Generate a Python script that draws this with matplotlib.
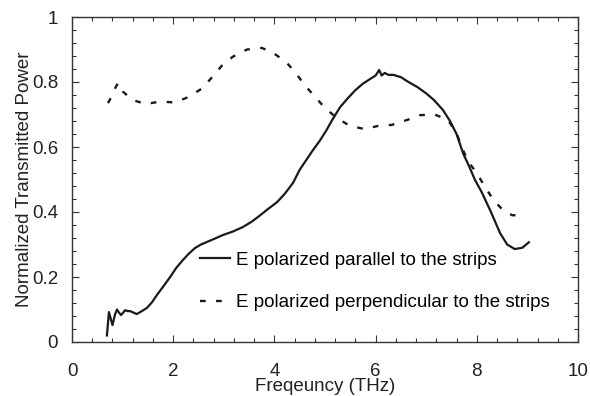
import numpy as np
from matplotlib import pyplot as plt
from matplotlib.ticker import MultipleLocator

plt.rcParams['font.family'] = ['Liberation Sans', 'DejaVu Sans']

# solid curve: E parallel to the strips
f_par = [0.69, 0.73, 0.80, 0.85, 0.89, 0.93, 0.97, 1.01, 1.05, 1.10, 1.15, 1.22, 1.28,
         1.38, 1.48, 1.58, 1.68, 1.80, 1.94, 2.06, 2.19, 2.31, 2.43, 2.55, 2.67, 2.82,
         2.98, 3.18, 3.38, 3.55, 3.72, 3.88, 4.05, 4.20, 4.37, 4.50, 4.63, 4.76, 4.90,
         5.03, 5.13, 5.30, 5.45, 5.60, 5.75, 5.90, 6.00, 6.07, 6.12, 6.18, 6.25, 6.35,
         6.50, 6.65, 6.82, 7.00, 7.15, 7.33, 7.47, 7.60, 7.73, 7.85, 7.96, 8.10, 8.28,
         8.46, 8.60, 8.75, 8.90, 9.03]
p_par = [0.02, 0.092, 0.052, 0.085, 0.10, 0.09, 0.083, 0.09, 0.098, 0.095, 0.095, 0.09,
         0.086, 0.095, 0.105, 0.122, 0.145, 0.17, 0.20, 0.228, 0.252, 0.272, 0.289,
         0.30, 0.308, 0.318, 0.329, 0.34, 0.354, 0.37, 0.39, 0.41, 0.43, 0.455, 0.49,
         0.53, 0.56, 0.59, 0.62, 0.652, 0.68, 0.723, 0.75, 0.775, 0.795, 0.81, 0.82,
         0.837, 0.82, 0.828, 0.822, 0.822, 0.815, 0.80, 0.785, 0.765, 0.745, 0.714,
         0.68, 0.64, 0.58, 0.54, 0.50, 0.46, 0.40, 0.335, 0.30, 0.286, 0.29, 0.307]

# dashed curve: E perpendicular to the strips
f_perp = [0.71, 0.79, 0.85, 0.91, 1.01, 1.19, 1.46, 1.74, 2.03, 2.29, 2.57, 2.77, 2.96,
          3.18, 3.46, 3.75, 3.97, 4.23, 4.43, 4.60, 4.80, 5.00, 5.23, 5.49, 5.79, 6.05,
          6.32, 6.62, 6.88, 7.17, 7.43, 7.60, 7.70, 7.83, 8.00, 8.17, 8.33, 8.52, 8.70,
          8.85]
p_perp = [0.735, 0.757, 0.78, 0.797, 0.77, 0.745, 0.732, 0.74, 0.737, 0.753, 0.78,
          0.815, 0.85, 0.878, 0.90, 0.905, 0.89, 0.862, 0.826, 0.79, 0.755, 0.72, 0.69,
          0.665, 0.655, 0.665, 0.668, 0.683, 0.698, 0.70, 0.683, 0.643, 0.60, 0.555,
          0.52, 0.475, 0.437, 0.405, 0.39, 0.39]

xticks = [0, 2, 4, 6, 8, 10]
yticks = [0, 0.2, 0.4, 0.6, 0.8, 1]
fs = 13.5

fig = plt.figure(figsize=(5.9, 3.96), dpi=100)
ax = fig.add_axes([72 / 590, 1 - 342 / 396, 506 / 590, 325 / 396])

ax.plot(f_par, p_par, color='#1a1a1a', lw=1.6, label='E polarized parallel to the strips')
ax.plot(f_perp, p_perp, color='#1a1a1a', lw=1.7, dashes=(2.4, 4.4),
        label='E polarized perpendicular to the strips')

ax.set_xlim(0, 10)
ax.set_ylim(0, 1)
ax.set_xticks(xticks)
ax.set_xticklabels([str(t) for t in xticks])
ax.set_yticks(yticks)
ax.set_yticklabels(['0', '0.2', '0.4', '0.6', '0.8', '1'])
ax.xaxis.set_minor_locator(MultipleLocator(0.4))
ax.yaxis.set_minor_locator(MultipleLocator(0.04))
ax.tick_params(which='both', direction='in', top=True, right=True, width=0.8, color='#333333')
ax.tick_params(which='major', length=5)
ax.tick_params(which='minor', length=3)
ax.tick_params(axis='x', which='major', pad=15, labelsize=fs, labelcolor='#222222')
ax.tick_params(axis='y', which='major', pad=10, labelsize=fs, labelcolor='#222222')
for s in ax.spines.values():
    s.set_linewidth(1.0)
    s.set_color('#333333')

ax.set_xlabel('Freqeuncy (THz)', fontsize=fs, color='#222222')
ax.xaxis.set_label_coords(0.5, -0.112)
ax.set_ylabel('Normalized Transmitted Power', fontsize=fs, color='#222222', labelpad=-1)

ax.legend(loc='upper left', bbox_to_anchor=(0.253, 0.278), frameon=False, fontsize=fs,
          labelspacing=1.36, handlelength=1.6, handletextpad=0.3, borderaxespad=0,
          borderpad=0)

fig.savefig('out.png', dpi=100)
